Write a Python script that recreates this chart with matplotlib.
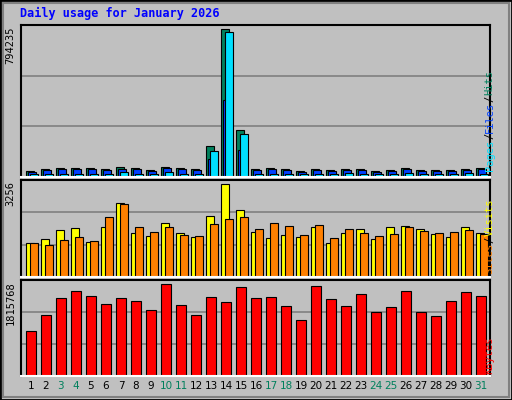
import numpy as np
import matplotlib.pyplot as plt
from matplotlib.patches import Rectangle

days = np.arange(1, 32)
weekend = [3, 4, 10, 11, 17, 18, 24, 25, 31]

hits = [32200, 42900, 48300, 48300, 48300, 42900, 53700, 48300, 37600, 53700,
        48300, 42900, 166300, 794235, 252200, 42900, 48300, 42900, 32200, 42900,
        37600, 42900, 42900, 32200, 37600, 48300, 37600, 37600, 37600, 42900, 48300]
files = [26800, 37600, 42900, 42900, 42900, 37600, 42900, 42900, 32200, 48300,
         42900, 37600, 96600, 413200, 144900, 37600, 42900, 37600, 26800, 37600,
         32200, 37600, 37600, 26800, 32200, 42900, 32200, 32200, 32200, 37600, 42900]
pages = [16100, 16100, 16100, 16100, 16100, 16100, 26800, 16100, 16100, 26800,
         16100, 16100, 139500, 778100, 230700, 16100, 16100, 16100, 16100, 16100,
         16100, 21500, 16100, 16100, 16100, 21500, 16100, 16100, 16100, 21500, 16100]
visits = [1190, 1330, 1645, 1715, 1225, 1750, 2590, 1540, 1435, 1890,
          1540, 1400, 2135, 3256, 2345, 1575, 1365, 1470, 1400, 1750,
          1190, 1540, 1680, 1330, 1750, 1785, 1680, 1505, 1400, 1750, 1540]
sites = [1190, 1120, 1295, 1400, 1260, 2100, 2555, 1750, 1575, 1750,
         1470, 1435, 1855, 2030, 2100, 1680, 1890, 1785, 1470, 1820,
         1365, 1680, 1540, 1435, 1505, 1750, 1610, 1540, 1575, 1645, 1505]
kbytes = [888200, 1204000, 1539500, 1677700, 1579000, 1421100, 1539500, 1480300,
          1302700, 1815768, 1401300, 1204000, 1559200, 1460500, 1756600, 1539500,
          1559200, 1381600, 1105300, 1776300, 1519800, 1381600, 1618400, 1263200,
          1361900, 1677700, 1263200, 1184200, 1480300, 1657900, 1579000]

BG = '#c0c0c0'
fig = plt.figure(figsize=(5.12, 4.0), dpi=100, facecolor=BG)
fig.patches.append(Rectangle((0, 0), 1, 1, transform=fig.transFigure,
                             fill=False, edgecolor='black', lw=2))
fig.patches.append(Rectangle((3 / 512, 3 / 400), 506 / 512, 394 / 400,
                             transform=fig.transFigure, fill=False,
                             edgecolor='#808080', lw=1.5))

fig.text(20 / 512, 1 - 13 / 400, 'Daily usage for January 2026', color='#0000ff',
         family='DejaVu Sans Mono', fontweight='bold', fontsize=8.5, va='center')

L, W = 21 / 512, 469 / 512
w = 0.53
mono = 'DejaVu Sans Mono'


def panel(rect, top):
    ax = fig.add_axes(rect, facecolor=BG)
    ax.set_xlim(0.667, 31.93)
    ax.set_ylim(0, top)
    for t in (top / 3, 2 * top / 3):
        ax.axhline(t, color='#808080', lw=1.2, zorder=0)
    ax.set_xticks([])
    ax.set_yticks([])
    for s in ('top', 'left', 'right'):
        ax.spines[s].set_color('black')
    ax.spines['bottom'].set_color('white')
    for s in ax.spines.values():
        s.set_linewidth(1.5)
    return ax


ax1 = panel([L, 0.5575, W, 0.38], 815600)
ax1.bar(days, hits, width=w, align='edge', color='#00805c', edgecolor='black', lw=0.8)
ax1.bar(days + 0.13, files, width=w, align='edge', color='#0040ff', edgecolor='black', lw=0.8)
ax1.bar(days + 0.27, pages, width=w, align='edge', color='#00e0ff', edgecolor='black', lw=0.8)

ax2 = panel([L, 0.3075, W, 0.2425], 3395)
ax2.bar(days, visits, width=w, align='edge', color='#ffff00', edgecolor='black', lw=0.8)
ax2.bar(days + 0.27, sites, width=w, align='edge', color='#ff8000', edgecolor='black', lw=0.8)

ax3 = panel([L, 0.06, W, 0.24], 1894750)
ax3.bar(days, kbytes, width=0.67, align='edge', color='#ff0000', edgecolor='black', lw=0.8)

for ax, val in ((ax1, max(hits)), (ax2, max(visits)), (ax3, max(kbytes))):
    ax.text(-0.012, 0.99, str(val), transform=ax.transAxes, rotation=90,
            ha='right', va='top', fontsize=7.5, family=mono)

# right-side legends, each word coloured, stacked upwards in pixel steps
CHAR_PX = 6.3


def side_label(ax, parts, y0):
    h_px = ax.get_position().height * 400
    y = y0
    for txt, col in parts:
        ax.text(1.01, y, txt, transform=ax.transAxes, rotation=90,
                ha='left', va='bottom', color=col, fontsize=7.5, family=mono,
                rotation_mode='anchor')
        y += len(txt) * CHAR_PX / h_px


side_label(ax1, [('Pages', '#00e0ff'), ('/', 'black'), ('Files', '#0040ff'),
                 ('/', 'black'), ('Hits', '#00805c')], 0.04)
side_label(ax2, [('Sites', '#ff8000'), ('/', 'black'), ('Visits', '#ffff00')], 0.03)
side_label(ax3, [('KBytes', '#ff0000')], 0.02)

for d in days:
    ax3.text(d + 0.33, -0.1, str(d), transform=ax3.get_xaxis_transform(),
             ha='center', va='center', fontsize=7.5, family='DejaVu Sans',
             color='#00805c' if d in weekend else 'black')

fig.savefig('out.png', dpi=100, facecolor=BG)
